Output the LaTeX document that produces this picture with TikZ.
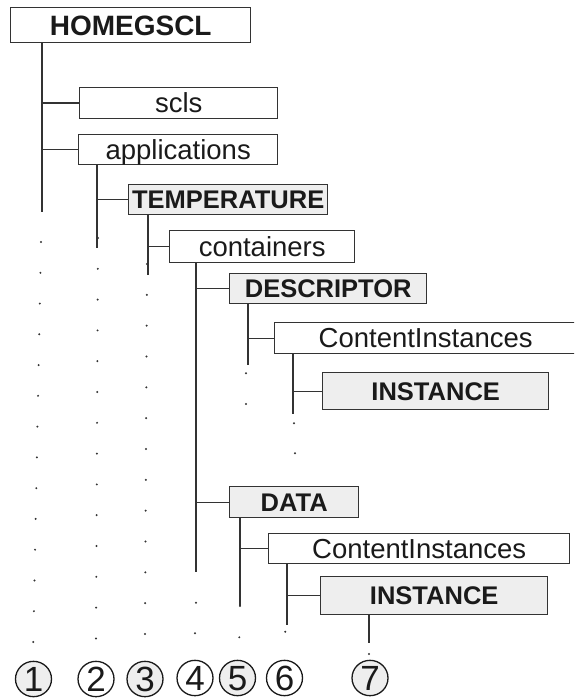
\documentclass[tikz,border=0pt]{standalone}
\usepackage{fontspec}
\setmainfont{Liberation Sans}
\usetikzlibrary{calc,shapes.geometric}
\definecolor{boxgray}{HTML}{EEEEEE}
\definecolor{ink}{HTML}{1A1A1A}
\definecolor{linec}{HTML}{333333}
\newcommand\dotrow[3]{\foreach \i in {0,...,#3}{\fill[linec] ($(#1)!\i/#3!(#2)$) circle (1.1);}}
\newcommand\numfont{\fontsize{35}{35}\selectfont}
\begin{document}
\begin{tikzpicture}[x=1pt,y=-1pt,
  box/.style={draw=linec, line width=1.4pt, inner sep=0pt, anchor=north west, text=ink,
    font={\fontsize{27.5}{27.5}\selectfont}, text height=19.5pt, text depth=0pt},
  hl/.style={box, fill=boxgray, font={\bfseries\fontsize{25.5}{25.5}\selectfont}, text height=18.3pt},
  trunk/.style={draw=linec, line width=1.4pt},
  num/.style={ellipse, draw=ink, line width=1.3pt, minimum width=36pt, minimum height=33pt,
    inner sep=0pt, text=ink, font=\numfont, text height=25pt, text depth=0pt}]
\useasboundingbox (0,0) rectangle (574,698);
\clip (0,0) rectangle (574,698);
% boxes
\node[box, minimum width=240pt, minimum height=35pt, font={\bfseries\fontsize{28}{28}\selectfont}, text height=20pt] (homeg) at (10,7) {HOMEGSCL};
\node[box, minimum width=198pt, minimum height=31pt] (scls) at (79,87) {scls};
\node[box, minimum width=199pt, minimum height=30pt] (apps) at (78,134) {applications};
\node[hl, minimum width=199pt, minimum height=30pt] (temp) at (128,184) {TEMPERATURE};
\node[box, minimum width=185pt, minimum height=32pt] (cont) at (169,230) {containers};
\node[hl, minimum width=197pt, minimum height=30pt] (desc) at (229,273) {DESCRIPTOR};
\node[box, minimum width=302pt, minimum height=31pt] (ci1) at (274,322) {ContentInstances};
\node[hl, minimum width=226pt, minimum height=37pt] (inst1) at (322,372) {INSTANCE};
\node[hl, minimum width=129pt, minimum height=31pt] (data) at (229,486) {DATA};
\node[box, minimum width=301pt, minimum height=30pt] (ci2) at (268,533) {ContentInstances};
\node[hl, minimum width=227pt, minimum height=38pt] (inst2) at (320,576) {INSTANCE};
% trunk ends
\coordinate (e1) at (42,212);
\coordinate (e2) at (97,248);
\coordinate (e3) at (148,275);
\coordinate (e4) at (196,572);
\coordinate (e5) at (248,365);
\coordinate (e6) at (293,414);
\coordinate (e5b) at (240,606);
\coordinate (e6b) at (287,625);
\coordinate (e7) at (369,643);
% trunks and branches
\draw[trunk] (homeg.south -| e1) -- (e1);
\draw[trunk] (e1 |- scls.west) -- (scls.west);
\draw[trunk] (e1 |- apps.west) -- (apps.west);
\draw[trunk] (apps.south -| e2) -- (e2);
\draw[trunk] (e2 |- temp.west) -- (temp.west);
\draw[trunk] (temp.south -| e3) -- (e3);
\draw[trunk] (e3 |- cont.west) -- (cont.west);
\draw[trunk] (cont.south -| e4) -- (e4);
\draw[trunk] (e4 |- desc.west) -- (desc.west);
\draw[trunk] (e4 |- data.west) -- (data.west);
\draw[trunk] (desc.south -| e5) -- (e5);
\draw[trunk] (e5 |- ci1.west) -- (ci1.west);
\draw[trunk] (ci1.south -| e6) -- (e6);
\draw[trunk] (e6 |- inst1.west) -- (inst1.west);
\draw[trunk] (data.south -| e5b) -- (e5b);
\draw[trunk] (e5b |- ci2.west) -- (ci2.west);
\draw[trunk] (ci2.south -| e6b) -- (e6b);
\draw[trunk] (e6b |- inst2.west) -- (inst2.west);
\draw[trunk] (inst2.south -| e7) -- (e7);
% dotted continuations
\coordinate (p1a) at (41,242);    \coordinate (p1b) at (33.3,642);
\coordinate (p2a) at (98,238);    \coordinate (p2b) at (96,638.4);
\coordinate (p3a) at (147,264);   \coordinate (p3b) at (145,634);
\coordinate (p4a) at (196,602.7); \coordinate (p4b) at (195,633.3);
\coordinate (p5a) at (246,373.3); \coordinate (p5b) at (246,404);
\coordinate (p6a) at (294,423.3); \coordinate (p6b) at (295,453.3);
\coordinate (q5a) at (240,606);   \coordinate (q5b) at (239.3,637.3);
\coordinate (q6a) at (285.3,631.7); \coordinate (q6b) at (285.3,661);
\coordinate (p7) at (369,654);
\dotrow{p1a}{p1b}{13}
\dotrow{p2a}{p2b}{13}
\dotrow{p3a}{p3b}{12}
\dotrow{p4a}{p4b}{1}
\dotrow{p5a}{p5b}{1}
\dotrow{p6a}{p6b}{1}
\dotrow{q5a}{q5b}{1}
\dotrow{q6a}{q6b}{1}
\fill[linec] (p7) circle (1.1);
% level numbers
\node[num, fill=boxgray] (n1) at (33.5,679) {1};
\node[num, fill=white]   (n2) at (96,679) {2};
\node[num, fill=boxgray] (n3) at (145,679) {3};
\node[num, fill=white]   (n4) at (195,678) {4};
\node[num, fill=boxgray] (n5) at (237.5,678) {5};
\node[num, fill=white]   (n6) at (284.5,678) {6};
\node[num, fill=boxgray] (n7) at (370,678) {7};
\end{tikzpicture}
\end{document}
